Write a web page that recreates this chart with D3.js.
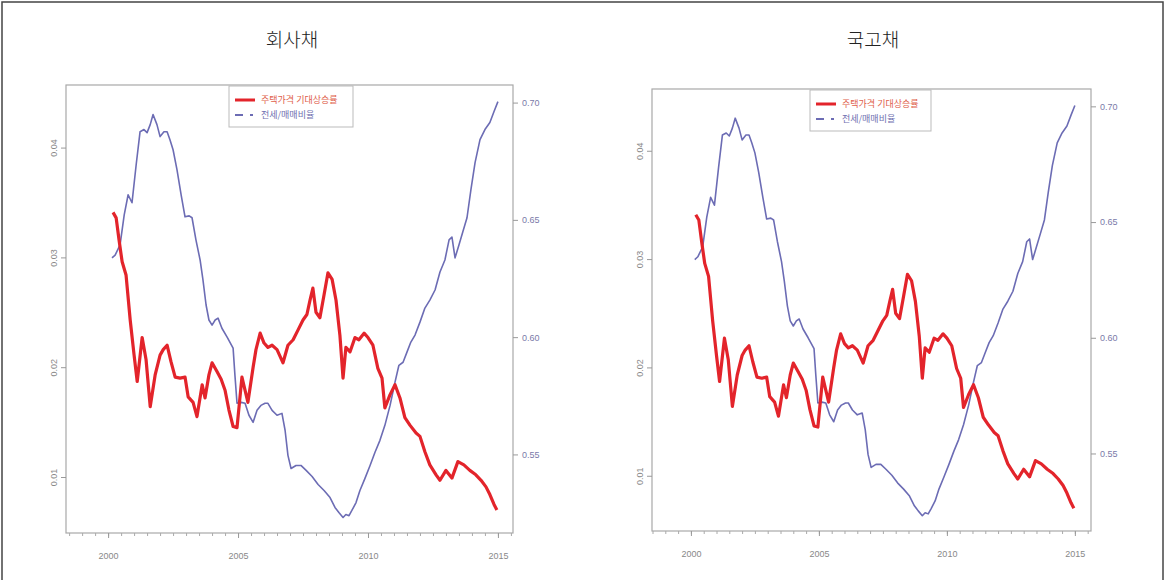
<!DOCTYPE html>
<html>
<head>
<meta charset="utf-8">
<script src="https://cdn.jsdelivr.net/npm/d3@7"></script>
<style>
    body { margin: 0; background: #fff; }
    svg { display: block; }
    .axis-label { font-family: "Liberation Sans", Arial, sans-serif; font-size: 9px; }
    .title { font-family: "Noto Sans CJK KR", sans-serif; font-size: 19px; font-weight: 300; fill: #222; }
    .legend-text { font-family: "Noto Sans CJK KR", sans-serif; font-size: 9px; }
</style>
</head>
<body>
<svg id="chart" width="1165" height="580"></svg>
<script>
// Dữ liệu
const panelTitles = ["회사채", "국고채"];
const legendLabels = ["주택가격 기대상승률", "전세/매매비율"];
const leftTicks = [0.01, 0.02, 0.03, 0.04];
const rightTicks = [0.55, 0.60, 0.65, 0.70];
const yearTicks = [2000, 2005, 2010, 2015];

// 주택가격 기대상승률 (left axis)
const expYears = [2000.19, 2000.31, 2000.42, 2000.54, 2000.69, 2000.85, 2001.00, 2001.12, 2001.31, 2001.46,
    2001.62, 2001.81, 2002.00, 2002.12, 2002.27, 2002.42, 2002.58, 2002.77, 2002.96, 2003.08,
    2003.27, 2003.42, 2003.62, 2003.73, 2003.88, 2004.00, 2004.19, 2004.35, 2004.50, 2004.65,
    2004.81, 2004.96, 2005.15, 2005.38, 2005.58, 2005.69, 2005.85, 2006.00, 2006.15, 2006.31,
    2006.50, 2006.73, 2006.92, 2007.12, 2007.31, 2007.50, 2007.65, 2007.77, 2007.88, 2008.00,
    2008.15, 2008.31, 2008.46, 2008.62, 2008.77, 2008.92, 2009.04, 2009.15, 2009.31, 2009.50,
    2009.65, 2009.85, 2010.00, 2010.19, 2010.38, 2010.54, 2010.65, 2010.85, 2011.04, 2011.23,
    2011.42, 2011.62, 2011.85, 2012.00, 2012.19, 2012.38, 2012.62, 2012.77, 2013.00, 2013.23,
    2013.46, 2013.69, 2013.92, 2014.15, 2014.35, 2014.54, 2014.69, 2014.85, 2014.96];
const expRate = [0.0341, 0.0336, 0.0316, 0.0296, 0.0284, 0.0243, 0.0211, 0.0187, 0.0227, 0.0207,
    0.0164, 0.0193, 0.0211, 0.0216, 0.0220, 0.0205, 0.0191, 0.0190, 0.0191, 0.0173,
    0.0168, 0.0155, 0.0184, 0.0172, 0.0193, 0.0204, 0.0196, 0.0189, 0.0179, 0.0161,
    0.0146, 0.0145, 0.0191, 0.0168, 0.0200, 0.0216, 0.0231, 0.0222, 0.0218, 0.0220,
    0.0216, 0.0204, 0.0220, 0.0225, 0.0234, 0.0243, 0.0248, 0.0261, 0.0272, 0.0250,
    0.0245, 0.0266, 0.0286, 0.0280, 0.0261, 0.0229, 0.0190, 0.0218, 0.0214, 0.0227,
    0.0225, 0.0231, 0.0227, 0.0220, 0.0199, 0.0190, 0.0163, 0.0175, 0.0184, 0.0172,
    0.0154, 0.0147, 0.0140, 0.0137, 0.0123, 0.0111, 0.0102, 0.0097, 0.0106, 0.0099,
    0.0114, 0.0111, 0.0106, 0.0102, 0.0097, 0.0091, 0.0084, 0.0075, 0.0070];

// 전세/매매비율 (right axis)
const ratioYears = [2000.15, 2000.27, 2000.46, 2000.62, 2000.77, 2000.92, 2001.08, 2001.23, 2001.38, 2001.50,
    2001.62, 2001.73, 2001.88, 2002.00, 2002.15, 2002.27, 2002.38, 2002.50, 2002.65, 2002.81,
    2002.96, 2003.12, 2003.23, 2003.38, 2003.54, 2003.65, 2003.77, 2003.88, 2004.00, 2004.12,
    2004.23, 2004.38, 2004.58, 2004.81, 2004.88, 2004.96, 2005.12, 2005.27, 2005.42, 2005.58,
    2005.73, 2005.88, 2006.04, 2006.15, 2006.31, 2006.50, 2006.69, 2006.81, 2006.92, 2007.04,
    2007.23, 2007.42, 2007.62, 2007.85, 2008.08, 2008.31, 2008.54, 2008.73, 2008.88, 2009.04,
    2009.15, 2009.27, 2009.38, 2009.54, 2009.69, 2009.88, 2010.08, 2010.27, 2010.46, 2010.65,
    2010.85, 2011.04, 2011.19, 2011.35, 2011.50, 2011.65, 2011.81, 2012.00, 2012.19, 2012.38,
    2012.58, 2012.77, 2012.96, 2013.12, 2013.23, 2013.35, 2013.50, 2013.65, 2013.81, 2013.96,
    2014.12, 2014.31, 2014.50, 2014.69, 2014.85, 2015.00];
const ratioValues = [0.6338, 0.6350, 0.6393, 0.6521, 0.6607, 0.6573, 0.6735, 0.6876, 0.6885, 0.6872,
    0.6906, 0.6949, 0.6906, 0.6855, 0.6876, 0.6876, 0.6842, 0.6799, 0.6714, 0.6607,
    0.6513, 0.6517, 0.6509, 0.6415, 0.6329, 0.6244, 0.6137, 0.6073, 0.6051, 0.6073,
    0.6081, 0.6038, 0.6000, 0.5953, 0.5838, 0.5718, 0.5722, 0.5718, 0.5667, 0.5637,
    0.5688, 0.5709, 0.5718, 0.5718, 0.5688, 0.5667, 0.5675, 0.5603, 0.5496, 0.5440,
    0.5453, 0.5453, 0.5432, 0.5406, 0.5372, 0.5346, 0.5316, 0.5274, 0.5252, 0.5231,
    0.5244, 0.5239, 0.5261, 0.5295, 0.5346, 0.5397, 0.5453, 0.5509, 0.5560, 0.5624,
    0.5709, 0.5808, 0.5880, 0.5893, 0.5936, 0.5979, 0.6009, 0.6064, 0.6124, 0.6158,
    0.6201, 0.6278, 0.6329, 0.6415, 0.6427, 0.6338, 0.6393, 0.6449, 0.6509, 0.6628,
    0.6744, 0.6842, 0.6885, 0.6915, 0.6962, 0.7004];

const expSeries = d3.zip(expYears, expRate);
const ratioSeries = d3.zip(ratioYears, ratioValues);

// Bố cục từng panel
const panels = [
    { title: panelTitles[0], left: 66, right: 513, top: 85, bottom: 533, titleX: 292,
      xDomain: [1998.38, 2015.58], legX: 229, legW: 124 },
    { title: panelTitles[1], left: 652, right: 1091, top: 89, bottom: 531, titleX: 873,
      xDomain: [1998.48, 2015.63], legX: 810, legW: 121 }
];
const yLeftDomain = [0.0049, 0.0457];
const yRightDomain = [0.5165, 0.7075];

const svg = d3.select("#chart");

// Khung ngoài
svg.append("rect")
    .attr("x", 2).attr("y", 2)
    .attr("width", 1161).attr("height", 620)
    .attr("fill", "none")
    .attr("stroke", "#444")
    .attr("stroke-width", 1.5);

panels.forEach(p => {
    const x = d3.scaleLinear().domain(p.xDomain).range([p.left, p.right]);
    const yL = d3.scaleLinear().domain(yLeftDomain).range([p.bottom, p.top]);
    const yR = d3.scaleLinear().domain(yRightDomain).range([p.bottom, p.top]);

    // Tiêu đề
    svg.append("text")
        .attr("class", "title")
        .attr("x", p.titleX)
        .attr("y", 47)
        .attr("text-anchor", "middle")
        .text(p.title);

    // Khung biểu đồ
    svg.append("rect")
        .attr("x", p.left).attr("y", p.top)
        .attr("width", p.right - p.left)
        .attr("height", p.bottom - p.top)
        .attr("fill", "#fff")
        .attr("stroke", "#a8a8a8")
        .attr("stroke-width", 1.2);

    // Trục trái
    const gl = svg.append("g")
        .attr("transform", `translate(${p.left},0)`)
        .call(d3.axisLeft(yL).tickValues(leftTicks).tickSize(5).tickFormat(d3.format(".2f")));
    gl.select(".domain").remove();
    gl.selectAll("line").attr("stroke", "#999");
    gl.selectAll("text")
        .attr("class", "axis-label")
        .attr("fill", "#888")
        .attr("transform", "rotate(-90)")
        .attr("x", 0)
        .attr("y", -9)
        .attr("dy", 0)
        .attr("text-anchor", "middle");

    // Trục phải
    const gr = svg.append("g")
        .attr("transform", `translate(${p.right},0)`)
        .call(d3.axisRight(yR).tickValues(rightTicks).tickSize(5).tickPadding(4).tickFormat(d3.format(".2f")));
    gr.select(".domain").remove();
    gr.selectAll("line").attr("stroke", "#999");
    gr.selectAll("text").attr("class", "axis-label").attr("fill", "#7a7aa8");

    // Trục dưới
    const minor = d3.range(1998.5, 2015.51, 0.5);
    const gm = svg.append("g")
        .attr("transform", `translate(0,${p.bottom})`)
        .call(d3.axisBottom(x).tickValues(minor).tickSize(3).tickFormat(""));
    gm.select(".domain").remove();
    gm.selectAll("line").attr("stroke", "#aaa");

    const gb = svg.append("g")
        .attr("transform", `translate(0,${p.bottom})`)
        .call(d3.axisBottom(x).tickValues(yearTicks).tickSize(5).tickPadding(15).tickFormat(d3.format("d")));
    gb.select(".domain").remove();
    gb.selectAll("line").attr("stroke", "#999");
    gb.selectAll("text").attr("class", "axis-label").attr("fill", "#888");

    // Đường
    svg.append("path")
        .datum(ratioSeries)
        .attr("fill", "none")
        .attr("stroke", "#6c6cb4")
        .attr("stroke-width", 1.6)
        .attr("stroke-linejoin", "round")
        .attr("d", d3.line().x(d => x(d[0])).y(d => yR(d[1])));

    svg.append("path")
        .datum(expSeries)
        .attr("fill", "none")
        .attr("stroke", "#e3242b")
        .attr("stroke-width", 3.2)
        .attr("stroke-linejoin", "round")
        .attr("d", d3.line().x(d => x(d[0])).y(d => yL(d[1])));

    // Legend
    const lg = svg.append("g").attr("transform", `translate(${p.legX},${p.top + 1})`);
    lg.append("rect")
        .attr("width", p.legW).attr("height", 41)
        .attr("fill", "#fff").attr("stroke", "#bbb").attr("stroke-width", 1);
    lg.append("line")
        .attr("x1", 6).attr("x2", 26).attr("y1", 14).attr("y2", 14)
        .attr("stroke", "#e3242b").attr("stroke-width", 3);
    lg.append("text").attr("class", "legend-text")
        .attr("x", 32).attr("y", 17).attr("fill", "#e0604a").text(legendLabels[0]);
    lg.append("line")
        .attr("x1", 6).attr("x2", 26).attr("y1", 29).attr("y2", 29)
        .attr("stroke", "#6c6cb4").attr("stroke-width", 2)
        .attr("stroke-dasharray", "8,7,3,10");
    lg.append("text").attr("class", "legend-text")
        .attr("x", 32).attr("y", 32).attr("fill", "#7070b0").text(legendLabels[1]);
});
</script>
</body>
</html>
